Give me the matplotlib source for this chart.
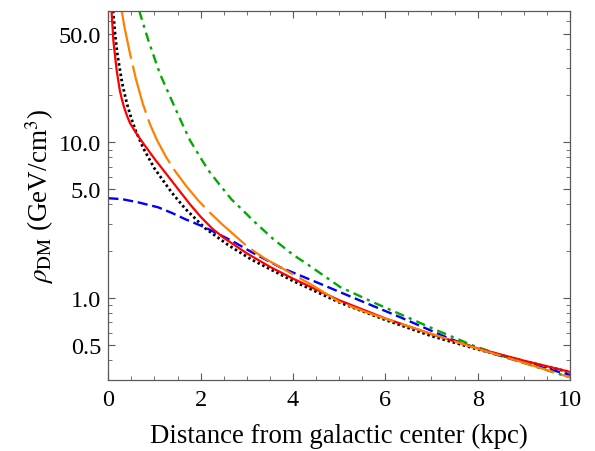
"""
Dark matter density profiles of the Milky Way vs galactocentric distance
"""
import numpy as np
import matplotlib.pyplot as plt
from matplotlib.ticker import FixedLocator, NullFormatter

plt.rcParams['font.family'] = ['Liberation Serif', 'DejaVu Serif']
plt.rcParams['mathtext.fontset'] = 'stix'

# radius (kpc) / density (GeV/cm^3) for each profile
r_nfw = [0.104, 0.15, 0.2, 0.3, 0.4, 0.5, 0.6, 0.76, 1.0, 1.37, 1.66, 2.09,
         2.6, 3.1, 4.0, 5.0, 6.0, 7.0, 8.0, 9.0, 10.0]
rho_nfw = [70, 48.5, 36.2, 24.0, 17.9, 14.2, 11.75, 9.15, 6.8, 4.78, 3.77,
           2.82, 2.19, 1.77, 1.29, 0.94, 0.725, 0.571, 0.469, 0.394, 0.335]

r_ein = [0.07, 0.11, 0.18, 0.25, 0.3, 0.35, 0.41, 0.47, 0.6, 0.75, 1.0, 1.25,
         1.5, 1.75, 2.0, 2.25, 2.5, 3.0, 3.5, 4.0, 5.0, 6.0, 7.0, 8.0, 9.0,
         10.0]
rho_ein = [70, 45, 29.2, 21.5, 18.6, 16.5, 14.7, 13.3, 11.5, 9.93, 7.85, 6.31,
           5.07, 4.07, 3.33, 2.80, 2.44, 1.94, 1.59, 1.334, 0.97, 0.741, 0.587,
           0.476, 0.397, 0.336]

r_einb = [0.29, 0.35, 0.47, 0.6, 0.75, 0.9, 1.05, 1.25, 1.44, 1.7, 1.95, 2.2,
          2.46, 2.75, 3.03, 3.4, 3.86, 4.4, 5.02, 5.6, 6.17, 7.0, 8.0, 9.0,
          10.0]
rho_einb = [70, 55, 37.2, 25.4, 17.6, 13.15, 10.4, 8.07, 6.58, 5.19, 4.23,
            3.54, 2.99, 2.51, 2.12, 1.79, 1.50, 1.22, 0.94, 0.81, 0.71, 0.59,
            0.473, 0.385, 0.31]

r_moore = [0.67, 0.75, 0.87, 1.0, 1.12, 1.28, 1.44, 1.6, 1.77, 2.0, 2.17, 2.4,
           2.67, 2.9, 3.14, 3.57, 4.0, 4.3, 5.02, 5.74, 6.32, 7.18, 7.91, 8.41,
           9.2, 10.0]
rho_moore = [70, 58.5, 45, 34.8, 27.5, 21.5, 16.8, 13.2, 10.3, 7.95, 6.6, 5.4,
             4.3, 3.7, 3.14, 2.40, 1.90, 1.66, 1.18, 0.94, 0.79, 0.61, 0.495,
             0.44, 0.367, 0.31]

r_iso = [0.0, 0.3, 0.65, 1.08, 1.4, 1.66, 2.09, 2.67, 3.11, 3.72, 4.58, 5.45,
         6.32, 7.4, 8.33, 9.0, 10.0]
rho_iso = [4.38, 4.32, 4.12, 3.83, 3.5, 3.22, 2.85, 2.34, 1.97, 1.58, 1.24,
           0.966, 0.755, 0.548, 0.44, 0.385, 0.322]

fig = plt.figure(figsize=(5.95, 4.52), dpi=100)
ax = fig.add_axes([0.182, 0.158, 0.776, 0.816])

ax.plot(r_nfw, rho_nfw, color='black', lw=2.0, linestyle=(0, (0.9, 1.0)),
        dash_capstyle='butt')
ax.plot(r_iso, rho_iso, color='#0000ff', lw=1.7, linestyle=(0, (4.3, 2.0)))
ax.plot(r_moore, rho_moore, color='#00aa00', lw=1.7,
        linestyle=(0, (4.0, 2.2, 1.3, 2.2)))
ax.plot(r_ein, rho_ein, color='#ff0000', lw=1.6)
ax.plot(r_einb, rho_einb, color='#ff8000', lw=1.6, linestyle=(0, (22, 3.2)))

ax.set_yscale('log')
ax.set_xlim(0, 10)
ax.set_ylim(0.3, 70)

ax.xaxis.set_major_locator(FixedLocator([0, 2, 4, 6, 8, 10]))
ax.xaxis.set_minor_locator(FixedLocator(np.arange(0, 10.01, 0.5)))
ax.set_xticklabels(['0', '2', '4', '6', '8', '10'])

yt = [0.5, 1.0, 5.0, 10.0, 50.0]
ax.yaxis.set_major_locator(FixedLocator(yt))
ax.yaxis.set_minor_locator(FixedLocator([0.4, 0.6, 0.7, 0.8, 0.9, 2, 3, 4, 6,
                                         7, 8, 9, 20, 30, 40, 60]))
ax.yaxis.set_minor_formatter(NullFormatter())
ax.set_yticklabels(['0.5', '1.0', '5.0', '10.0', '50.0'])

for s in ax.spines.values():
    s.set_color('0.35')
    s.set_linewidth(0.9)
ax.tick_params(which='both', direction='in', top=True, right=True,
               color='0.35', labelsize=17.5)
ax.tick_params(axis='x', pad=7)
ax.tick_params(axis='y', pad=5)
ax.tick_params(which='major', length=5, width=0.8)
ax.tick_params(which='minor', length=3, width=0.6)

ax.set_xlabel('Distance from galactic center (kpc)', fontsize=19.3, labelpad=9)
ax.set_ylabel(r'$\rho_{\rm DM}$ (GeV/cm$^3$)', fontsize=19.5, labelpad=2)

fig.savefig('out.png', dpi=100)
